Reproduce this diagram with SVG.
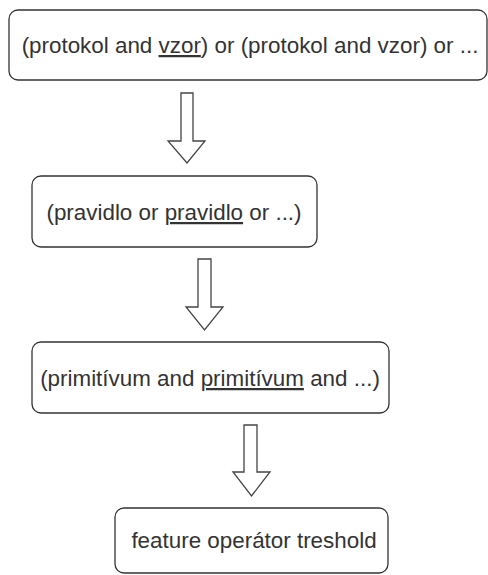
<svg xmlns="http://www.w3.org/2000/svg" width="488" height="575" viewBox="0 0 488 575">
<style>
.box{fill:#ffffff;stroke:#333333;stroke-width:1.3}
.arr{fill:#ffffff;stroke:#444444;stroke-width:1.3;stroke-linejoin:miter}
.t{font-family:"Liberation Sans",Arial,sans-serif;font-size:22.4px;fill:#333333;text-anchor:middle}
.u{text-decoration:underline}
</style>
<rect width="488" height="575" fill="#ffffff"/>
<g id="connectors">
<polygon class="arr" points="181,93 193,93 193,141 205,141 187,163 168,141 181,141"/>
<polygon class="arr" points="198,259 211,259 211,307 223,307 204.5,330 186,307 198,307"/>
<polygon class="arr" points="244,425 257,425 257,472 270,472 251.5,496 233,472 244,472"/>
</g>
<g id="node1">
<rect class="box" x="9" y="10" width="478" height="70" rx="9"/>
<text class="t" x="250" y="53">(protokol and <tspan class="u">vzor</tspan>) or (protokol and vzor) or ...</text>
</g>
<g id="node2">
<rect class="box" x="32" y="176" width="285" height="71" rx="9"/>
<text class="t" x="174" y="220">(pravidlo or <tspan class="u">pravidlo</tspan> or ...)</text>
</g>
<g id="node3">
<rect class="box" x="32" y="342" width="357" height="71" rx="9"/>
<text class="t" x="210" y="386">(primitívum and <tspan class="u">primitívum</tspan> and ...)</text>
</g>
<g id="node4">
<rect class="box" x="115" y="508" width="273" height="65" rx="9"/>
<text class="t" x="254" y="548">feature operátor treshold</text>
</g>
</svg>
